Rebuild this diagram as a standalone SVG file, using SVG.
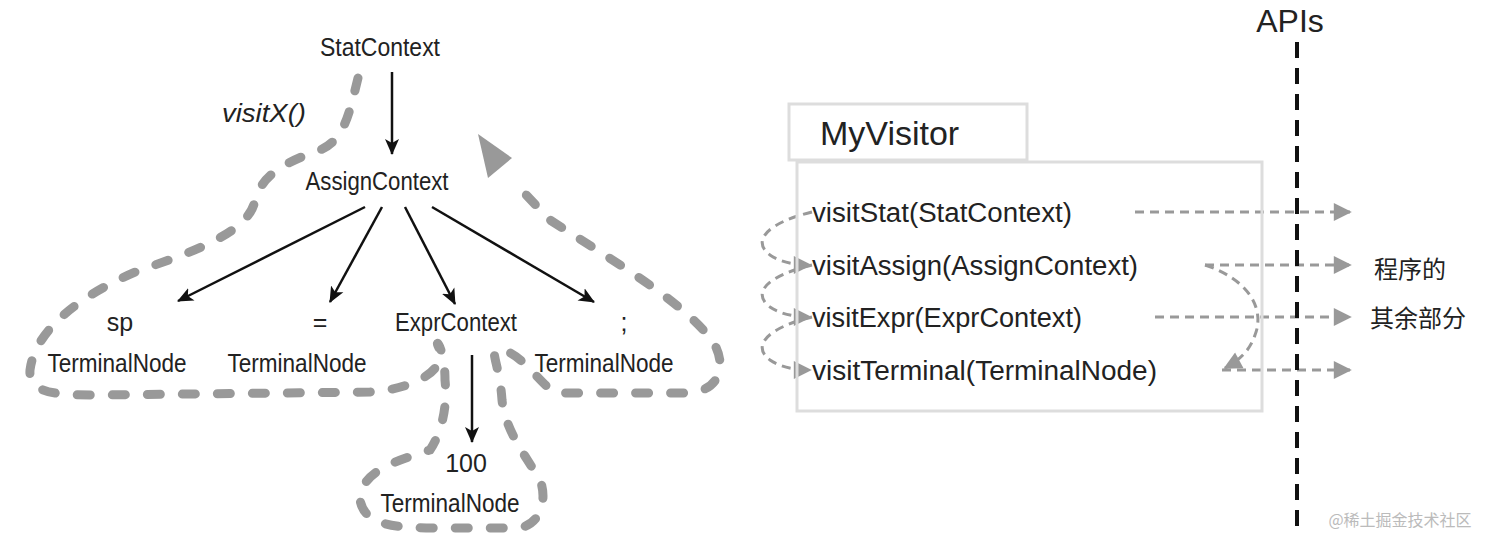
<svg xmlns="http://www.w3.org/2000/svg" width="1498" height="546" viewBox="0 0 1498 546">
<style>
text{font-family:"Liberation Sans Narrow","Liberation Sans",Arial,sans-serif;fill:#222}
.t{font-size:25px;text-anchor:middle}
.m{font-size:27px}
.blk{stroke:#111;stroke-width:2.5;fill:none;marker-end:url(#ab)}
.gd{stroke:#999;stroke-width:3;fill:none;stroke-dasharray:9 6;marker-end:url(#ag)}
.loop{stroke:#999;stroke-width:9;fill:none;stroke-dasharray:13 22;stroke-linecap:round}
</style>
<defs>
<marker id="ab" viewBox="0 0 16 16" refX="15" refY="8" markerWidth="16" markerHeight="16" orient="auto" markerUnits="userSpaceOnUse"><path d="M0,1 L16,8 L0,15 L4,8z" fill="#111"/></marker>
<marker id="ag" viewBox="0 0 10 10" refX="9" refY="5" markerWidth="22" markerHeight="18" orient="auto" markerUnits="userSpaceOnUse"><path d="M0,0 L10,5 L0,10z" fill="#999"/></marker>
</defs>
<rect width="1498" height="546" fill="#fff"/>
<g id="connectors">
<line class="blk" x1="392" y1="72" x2="392" y2="154"/>
<line class="blk" x1="365" y1="207" x2="178" y2="301"/>
<line class="blk" x1="382" y1="207" x2="330" y2="302"/>
<line class="blk" x1="405" y1="207" x2="455" y2="304"/>
<line class="blk" x1="432" y1="207" x2="594" y2="302"/>
<line class="blk" x1="472" y1="355" x2="472" y2="442"/>
<path class="loop" d="M358,78 C350,110 345,140 320,150 C285,162 262,175 255,200 C250,230 200,250 140,270 C80,295 35,330 30,370 C28,395 60,395 100,395 L370,392 C405,390 445,375 440,350 C432,335 445,345 445,380 C448,410 440,435 430,450 C400,460 360,470 360,500 C365,528 400,528 450,528 L515,528 C540,528 548,500 540,480 C525,455 505,430 502,400 C500,370 492,355 495,350 C520,345 545,395 560,393 L690,393 C720,390 728,365 712,340 C680,300 620,265 550,220 L512,180"/>
<path d="M478,134 L512,158 L488,178z" fill="#999"/>
<path class="gd" d="M812,212 C770,222 750,240 770,255 C780,262 795,265 810,265"/>
<path class="gd" d="M812,265 C770,275 750,292 770,307 C780,314 795,317 810,317"/>
<path class="gd" d="M812,317 C770,327 750,345 770,360 C780,367 795,370 810,370"/>
<line class="gd" x1="1135" y1="212" x2="1350" y2="212"/>
<line class="gd" x1="1205" y1="265" x2="1350" y2="265"/>
<line class="gd" x1="1155" y1="317" x2="1350" y2="317"/>
<line class="gd" x1="1222" y1="370" x2="1350" y2="370"/>
<path class="gd" d="M1205,265 C1250,280 1265,310 1255,335 C1250,350 1240,360 1225,368"/>
<line x1="1297" y1="42" x2="1297" y2="530" stroke="#111" stroke-width="4" stroke-dasharray="16 10"/>
</g>
<g id="n-stat"><text class="t" x="380" y="56" textLength="120" lengthAdjust="spacingAndGlyphs">StatContext</text></g>
<g id="n-visitx"><text x="222" y="122" style="font-size:25px;font-style:italic" textLength="84" lengthAdjust="spacingAndGlyphs">visitX()</text></g>
<g id="n-assign"><text class="t" x="377" y="190" textLength="143" lengthAdjust="spacingAndGlyphs">AssignContext</text></g>
<g id="n-sp"><text class="t" x="120" y="331">sp</text><text class="t" x="117" y="372" textLength="139" lengthAdjust="spacingAndGlyphs">TerminalNode</text></g>
<g id="n-eq"><text class="t" x="320" y="331">=</text><text class="t" x="297" y="372" textLength="139" lengthAdjust="spacingAndGlyphs">TerminalNode</text></g>
<g id="n-expr"><text class="t" x="456" y="331" textLength="122" lengthAdjust="spacingAndGlyphs">ExprContext</text></g>
<g id="n-semi"><text class="t" x="624" y="331">;</text><text class="t" x="604" y="372" textLength="139" lengthAdjust="spacingAndGlyphs">TerminalNode</text></g>
<g id="n-100"><text class="t" x="466" y="472">100</text><text class="t" x="450" y="512" textLength="139" lengthAdjust="spacingAndGlyphs">TerminalNode</text></g>
<g id="n-visitor">
<rect x="789" y="104" width="238" height="56" fill="#fff" stroke="#ddd" stroke-width="3"/>
<rect x="797" y="162" width="465" height="249" fill="none" stroke="#ddd" stroke-width="3"/>
<text x="820" y="145" style="font-size:34px">MyVisitor</text>
<text class="m" x="812" y="222" textLength="260" lengthAdjust="spacingAndGlyphs">visitStat(StatContext)</text>
<text class="m" x="812" y="275" textLength="326" lengthAdjust="spacingAndGlyphs">visitAssign(AssignContext)</text>
<text class="m" x="812" y="327" textLength="270" lengthAdjust="spacingAndGlyphs">visitExpr(ExprContext)</text>
<text class="m" x="812" y="380" textLength="345" lengthAdjust="spacingAndGlyphs">visitTerminal(TerminalNode)</text>
</g>
<g id="n-apis"><text class="t" x="1290" y="32" style="font-size:32px">APIs</text></g>
<g id="n-rest"><text x="1410" y="278" style="font-size:24px;text-anchor:middle;font-family:'Noto Sans CJK SC',sans-serif">程序的</text><text x="1418" y="327" style="font-size:24px;text-anchor:middle;font-family:'Noto Sans CJK SC',sans-serif">其余部分</text></g>
<text x="1400" y="526" style="font-size:16px;text-anchor:middle;fill:#bbb;font-family:'Noto Sans CJK SC',sans-serif">@稀土掘金技术社区</text>
</svg>
